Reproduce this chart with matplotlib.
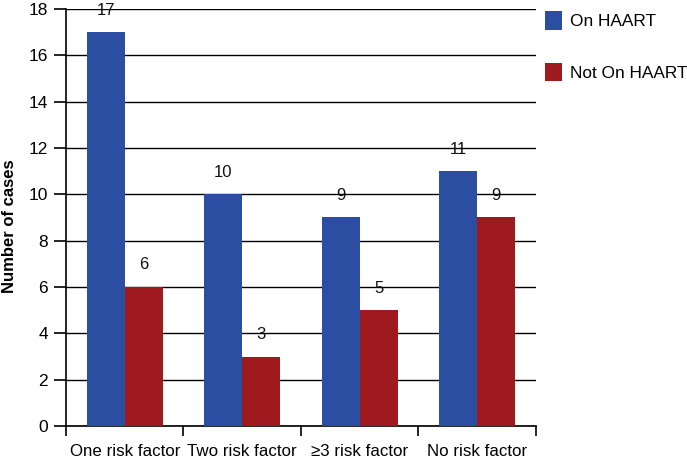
import matplotlib
matplotlib.use('Agg')
import matplotlib.pyplot as plt
from matplotlib.patches import Patch
import numpy as np

plt.rcParams['font.family'] = ['Liberation Sans', 'DejaVu Sans']

# ── DATA ─────────────────────────────────────────
categories = ["One risk factor", "Two risk factor", "\u22653 risk factor", "No risk factor"]
on_haart = [17, 10, 9, 11]
not_on_haart = [6, 3, 5, 9]
series_names = ["On HAART", "Not On HAART"]

COLOR_BLUE = "#2B4EA2"
COLOR_RED = "#9F1A1F"

fig = plt.figure(figsize=(6.87, 4.61), dpi=100, facecolor='white')
ax = fig.add_axes([0.0961, 0.0759, 0.684, 0.9046])

x = np.arange(len(categories))
w = 0.325
b1 = ax.bar(x - w / 2, on_haart, w, color=COLOR_BLUE, zorder=3)
b2 = ax.bar(x + w / 2, not_on_haart, w, color=COLOR_RED, zorder=3)

for bars, vals in ((b1, on_haart), (b2, not_on_haart)):
    for bar, v in zip(bars, vals):
        ax.text(bar.get_x() + bar.get_width() / 2, v + 0.95, str(v),
                ha='center', va='center', fontsize=12, color='#111111', zorder=4)

ax.set_xlim(-0.5, len(categories) - 0.5)
ax.set_ylim(0, 18)
ax.set_yticks(np.arange(0, 19, 2))
ax.yaxis.grid(True, color='black', linewidth=1.0, zorder=0)
ax.set_axisbelow(True)

# group boundary ticks, labels centered between them
ax.set_xticks(np.arange(-0.5, len(categories), 1.0))
ax.set_xticklabels([])
ax.set_xticks(x, minor=True)
ax.set_xticklabels(categories, minor=True, fontsize=12.2)
ax.tick_params(axis='x', which='major', length=7, width=1.2, direction='out')
ax.tick_params(axis='x', which='minor', length=0, pad=13)
ax.tick_params(axis='y', length=9, width=1.2, direction='out', labelsize=12.5, pad=4)

for s in ('top', 'right'):
    ax.spines[s].set_visible(False)
for s in ('left', 'bottom'):
    ax.spines[s].set_linewidth(1.2)
    ax.spines[s].set_color('black')

fig.text(10 / 687, 1 - 226 / 461, "Number of cases", rotation=90,
         ha='center', va='center', fontsize=12, fontweight='bold')

handles = [Patch(facecolor=COLOR_BLUE), Patch(facecolor=COLOR_RED)]
fig.legend(handles, series_names, loc='upper left', bbox_to_anchor=(0.771, 1.009),
           frameon=False, fontsize=12.4, handlelength=0.95, handleheight=1.25,
           labelspacing=1.95, handletextpad=0.5)

plt.savefig("out.png", dpi=100, facecolor='white')
plt.close()
